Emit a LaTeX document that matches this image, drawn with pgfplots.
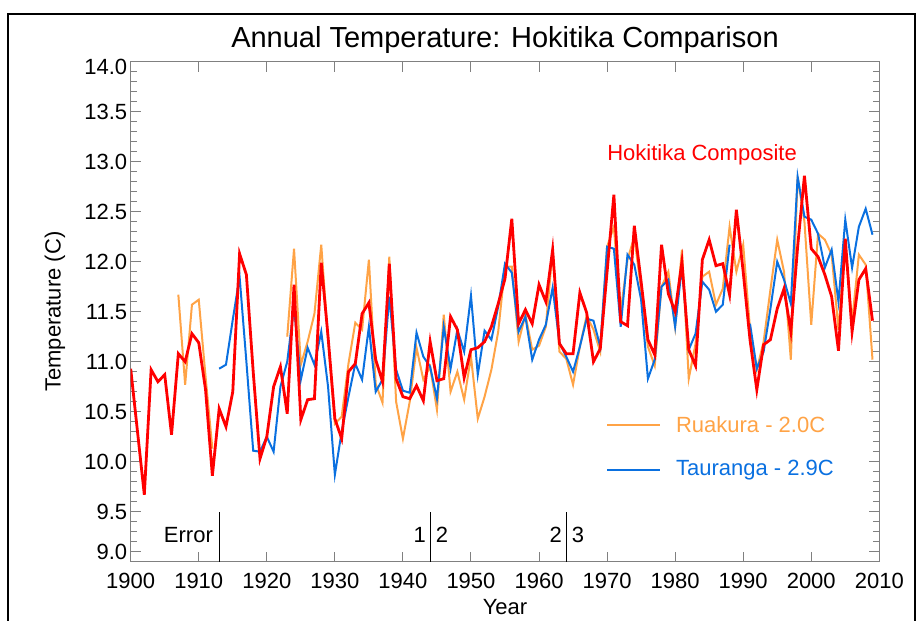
\documentclass[border=0pt]{standalone}
\usepackage{pgfplots}
\pgfplotsset{compat=1.18}
\usepackage{pgfplotstable}
\usepackage{fontspec}
\setmainfont{Liberation Sans}
\definecolor{hokred}{RGB}{255,0,0}
\definecolor{ruaorange}{RGB}{255,163,70}
\definecolor{taublue}{RGB}{10,112,224}
\definecolor{axgray}{RGB}{128,128,128}

\pgfplotstableread{
year red
1900 10.93
1901 10.30
1902 9.67
1903 10.92
1904 10.80
1905 10.87
1906 10.27
1907 11.08
1908 11.00
1909 11.28
1910 11.19
1911 10.72
1912 9.86
1913 10.53
1914 10.35
1915 10.70
1916 12.08
1917 11.87
1918 10.90
1919 10.03
1920 10.25
1921 10.75
1922 10.95
1923 10.48
1924 11.77
1925 10.42
1926 10.62
1927 10.63
1928 11.99
1929 11.25
1930 10.43
1931 10.23
1932 10.90
1933 10.98
1934 11.48
1935 11.59
1936 11.02
1937 10.80
1938 11.98
1939 10.83
1940 10.65
1941 10.63
1942 10.76
1943 10.61
1944 11.20
1945 10.81
1946 10.83
1947 11.45
1948 11.32
1949 10.84
1950 11.12
1951 11.14
1952 11.20
1953 11.35
1954 11.58
1955 11.83
1956 12.43
1957 11.38
1958 11.52
1959 11.38
1960 11.77
1961 11.60
1962 12.12
1963 11.18
1964 11.08
1965 11.08
1966 11.69
1967 11.49
1968 11.00
1969 11.13
1970 11.90
1971 12.67
1972 11.40
1973 11.36
1974 12.36
1975 11.80
1976 11.22
1977 11.07
1978 12.17
1979 11.68
1980 11.50
1981 12.00
1982 11.12
1983 10.96
1984 12.02
1985 12.22
1986 11.96
1987 11.98
1988 11.67
1989 12.52
1990 11.90
1991 11.22
1992 10.72
1993 11.17
1994 11.22
1995 11.53
1996 11.73
1997 11.30
1998 12.15
1999 12.86
2000 12.13
2001 12.05
2002 11.87
2003 11.65
2004 11.11
2005 12.23
2006 11.30
2007 11.82
2008 11.93
2009 11.41
}\redtable

\pgfplotstableread{
year blue
1913 10.93
1914 10.97
1915 11.42
1916 11.85
1917 11.00
1918 10.11
1919 10.10
1920 10.25
1921 10.10
1922 10.75
1923 11.00
1924 11.55
1925 10.82
1926 11.14
1927 10.97
1928 11.30
1929 10.75
1930 9.87
1931 10.30
1932 10.65
1933 10.98
1934 10.82
1935 11.35
1936 10.70
1937 10.82
1938 11.65
1939 10.92
1940 10.71
1941 10.69
1942 11.29
1943 11.05
1944 10.95
1945 10.63
1946 11.35
1947 10.93
1948 11.32
1949 11.10
1950 11.66
1951 10.87
1952 11.31
1953 11.22
1954 11.55
1955 11.98
1956 11.89
1957 11.30
1958 11.45
1959 11.02
1960 11.22
1961 11.37
1962 11.74
1963 11.19
1964 11.05
1965 10.90
1966 11.15
1967 11.43
1968 11.41
1969 11.15
1970 12.15
1971 12.13
1972 11.35
1973 12.07
1974 11.97
1975 11.62
1976 10.83
1977 11.02
1978 11.75
1979 11.82
1980 11.35
1981 11.95
1982 11.12
1983 11.28
1984 11.80
1985 11.72
1986 11.50
1987 11.57
1988 12.17
1989 nan
1990 nan
1991 11.38
1992 10.93
1993 11.10
1994 11.53
1995 12.00
1996 11.82
1997 11.58
1998 12.85
1999 12.45
2000 12.42
2001 12.28
2002 11.94
2003 12.12
2004 11.60
2005 12.42
2006 11.94
2007 12.35
2008 12.53
2009 12.27
}\bluetable

\pgfplotstableread{
year orange
1907 11.67
1908 10.77
1909 11.57
1910 11.62
1911 10.85
1912 10.13
1913 nan
1922 nan
1923 11.25
1924 12.13
1925 10.97
1926 11.20
1927 11.48
1928 12.17
1929 11.22
1930 10.38
1931 10.45
1932 10.98
1933 11.39
1934 11.32
1935 12.02
1936 10.78
1937 10.59
1938 12.05
1939 10.60
1940 10.23
1941 10.60
1942 11.14
1943 10.82
1944 10.95
1945 10.52
1946 11.47
1947 10.70
1948 10.90
1949 10.62
1950 11.05
1951 10.43
1952 10.65
1953 10.92
1954 11.30
1955 11.95
1956 11.95
1957 11.20
1958 11.47
1959 11.12
1960 11.16
1961 11.35
1962 12.12
1963 11.10
1964 11.03
1965 10.77
1966 11.15
1967 11.46
1968 11.32
1969 11.10
1970 12.15
1971 12.35
1972 11.50
1973 12.02
1974 12.25
1975 11.72
1976 11.15
1977 10.96
1978 11.75
1979 11.90
1980 11.35
1981 12.12
1982 10.83
1983 11.18
1984 11.85
1985 11.90
1986 11.57
1987 11.73
1988 12.35
1989 11.90
1990 12.17
1991 11.33
1992 10.92
1993 11.20
1994 11.72
1995 12.22
1996 11.90
1997 11.02
1998 12.85
1999 12.40
2000 11.37
2001 12.28
2002 12.22
2003 12.07
2004 11.32
2005 12.18
2006 11.40
2007 12.07
2008 11.97
2009 11.02
}\orangetable

\begin{document}
\begin{tikzpicture}
\useasboundingbox (0pt,0pt) rectangle (919pt,621pt);
% outer frame
\draw[line width=1.5pt,black] (8pt,-10pt) -- (8pt,607pt) -- (915pt,607pt) -- (915pt,-10pt);
% title and axis labels
\node[font=\fontsize{29}{33}\selectfont] at (505pt,581pt) {Annual Temperature: Hokitika Comparison};
\node[font=\fontsize{22}{26}\selectfont] at (505pt,14pt) {Year};
\node[font=\fontsize{22}{26}\selectfont,rotate=90] at (55pt,309.3pt) {Temperature (C)};
\begin{axis}[
  at={(130.7pt,59.3pt)}, anchor=south west,
  width=748.6pt, height=500pt, scale only axis,
  xmin=1900, xmax=2010, ymin=9, ymax=14,
  axis line style={axgray,line width=1pt},
  every tick/.style={axgray,line width=1pt},
  tick align=inside,
  major tick length=10pt, minor tick length=6pt,
  xtick={1900,1910,...,2010},
  minor xtick={},
  ytick={9.1,9.5,10,10.5,11,11.5,12,12.5,13,13.5,14},
  yticklabels={9.0,9.5,10.0,10.5,11.0,11.5,12.0,12.5,13.0,13.5,\raisebox{0pt}[\dimexpr\height+10pt\relax]{14.0}},
  minor ytick={9.2,9.3,9.4,9.6,9.7,9.8,9.9,10.1,10.2,10.3,10.4,10.6,10.7,10.8,10.9,11.1,11.2,11.3,11.4,11.6,11.7,11.8,11.9,12.1,12.2,12.3,12.4,12.6,12.7,12.8,12.9,13.1,13.2,13.3,13.4,13.6,13.7,13.8,13.9},
  /pgf/number format/assume math mode=true,
  /pgf/number format/1000 sep={},
  xticklabel style={font=\fontsize{22}{26}\selectfont, yshift=-8pt},
  yticklabel style={font=\fontsize{22}{26}\selectfont},
  unbounded coords=jump,
  clip=true,
]
\addplot[ruaorange, line width=2pt] table[x=year,y=orange] {\orangetable};
\addplot[taublue, line width=2pt] table[x=year,y=blue] {\bluetable};
\addplot[hokred, line width=2.8pt] table[x=year,y=red] {\redtable};

% station change markers
\draw[black, line width=1pt] (axis cs:1913,9) -- (axis cs:1913,9.5);
\draw[black, line width=1pt] (axis cs:1944,9) -- (axis cs:1944,9.5);
\draw[black, line width=1pt] (axis cs:1964,9) -- (axis cs:1964,9.5);
\node[anchor=east, inner sep=0pt, font=\fontsize{22}{26}\selectfont] at (axis cs:1912.1,9.27) {Error};
\node[anchor=east, inner sep=0pt, font=\fontsize{22}{26}\selectfont] at (axis cs:1943.4,9.27) {1};
\node[anchor=west, inner sep=0pt, font=\fontsize{22}{26}\selectfont] at (axis cs:1944.8,9.27) {2};
\node[anchor=east, inner sep=0pt, font=\fontsize{22}{26}\selectfont] at (axis cs:1963.4,9.27) {2};
\node[anchor=west, inner sep=0pt, font=\fontsize{22}{26}\selectfont] at (axis cs:1964.8,9.27) {3};

% legend
\node[anchor=west, inner sep=0pt, text=hokred, font=\fontsize{22}{26}\selectfont] at (axis cs:1970,13.07) {Hokitika Composite};
\draw[ruaorange, line width=2pt] (axis cs:1970,10.37) -- (axis cs:1977.8,10.37);
\node[anchor=west, inner sep=0pt, text=ruaorange, font=\fontsize{22}{26}\selectfont] at (axis cs:1980.1,10.37) {Ruakura - 2.0C};
\draw[taublue, line width=2pt] (axis cs:1970,9.92) -- (axis cs:1977.8,9.92);
\node[anchor=west, inner sep=0pt, text=taublue, font=\fontsize{22}{26}\selectfont] at (axis cs:1980.1,9.92) {Tauranga - 2.9C};
\end{axis}
\end{tikzpicture}
\end{document}
